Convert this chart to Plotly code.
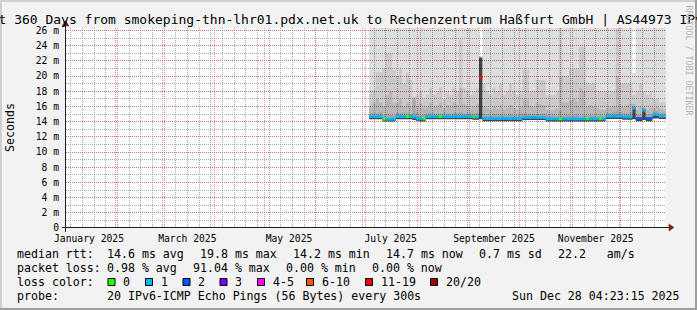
import plotly.graph_objects as go
from datetime import datetime, timedelta

# ---------------- data ----------------
GRAPH_END = datetime(2025, 12, 28, 4, 23, 15)
SPAN_DAYS = 360
SAMPLE_START = datetime(2025, 7, 3)
SAMPLE_STEP_DAYS = 2

median_ms = [14.65, 14.65, 14.65, 14.65, 14.3, 14.3, 14.3, 14.3, 14.65, 14.65,
             14.65, 14.65, 14.65, 14.6, 14.45, 14.35, 14.35, 14.65, 14.65, 14.65,
             14.65, 14.65, 14.65, 14.65, 14.65, 14.65, 14.65, 14.65, 14.65, 14.65,
             14.65, 14.6, 14.6, 19.8, 14.4, 14.4, 14.4, 14.4, 14.4, 14.4,
             14.4, 14.4, 14.4, 14.4, 14.4, 14.4, 14.55, 14.55, 14.55, 14.55,
             14.55, 14.55, 14.55, 14.35, 14.35, 14.35, 14.35, 14.35, 14.35, 14.35,
             14.35, 14.35, 14.35, 14.35, 14.35, 14.35, 14.35, 14.35, 14.35, 14.35,
             14.35, 14.7, 14.7, 14.7, 14.7, 14.7, 14.6, 14.6, 14.6, 15.8,
             14.4, 14.4, 15.5, 14.4, 14.4, 14.9, 14.9, 14.7, 14.7]

lost_pings = [1, 1, 1, 1, 0, 1, 1, 1, 1, 1,
              1, 0, 1, 1, 1, 1, 0, 1, 1, 1,
              1, 0, 1, 1, 1, 1, 1, 1, 1, 1,
              1, 0, 1, 15, 1, 1, 1, 1, 1, 1,
              1, 1, 1, 1, 1, 1, 1, 1, 1, 1,
              1, 1, 1, 1, 1, 1, 1, 0, 1, 1,
              1, 1, 1, 1, 1, 0, 1, 1, 1, 0,
              1, 1, 1, 1, 1, 1, 1, 1, 1, 1,
              2, 2, 1, 2, 2, 1, 1, 1, 1]

ping_min_ms = [14.3, 14.3, 14.3, 14.3, 14.0, 14.0, 14.0, 14.0, 14.3, 14.3,
               14.3, 14.3, 14.3, 14.2, 14.1, 14.0, 14.0, 14.3, 14.3, 14.3,
               14.3, 14.3, 14.3, 14.3, 14.3, 14.3, 14.3, 14.3, 14.3, 14.3,
               14.3, 14.25, 14.25, 14.3, 14.05, 14.05, 14.05, 14.05, 14.05, 14.05,
               14.05, 14.05, 14.05, 14.05, 14.05, 14.05, 14.2, 14.2, 14.2, 14.2,
               14.2, 14.2, 14.2, 14.0, 14.0, 14.0, 14.0, 14.0, 14.0, 14.0,
               14.0, 14.0, 14.0, 14.0, 14.0, 14.0, 14.0, 14.0, 14.0, 14.0,
               14.0, 14.35, 14.35, 14.35, 14.35, 14.35, 14.25, 14.25, 14.25, 14.3,
               14.05, 14.05, 14.2, 14.05, 14.05, 14.4, 14.4, 14.35, 14.35]

core_top_ms = [14.75, 14.75, 14.75, 14.75, 14.4, 14.4, 14.4, 14.4, 14.75, 14.75,
               14.75, 14.75, 14.75, 14.7, 14.55, 14.45, 14.45, 14.75, 14.75, 14.75,
               14.75, 14.75, 14.75, 14.75, 14.75, 14.75, 14.75, 14.75, 14.75, 14.75,
               14.75, 14.7, 14.7, 22.4, 14.5, 14.5, 14.5, 14.5, 14.5, 14.5,
               14.5, 14.5, 14.5, 14.5, 14.5, 14.5, 14.65, 14.65, 14.65, 14.65,
               14.65, 14.65, 14.65, 14.45, 14.45, 14.45, 14.45, 14.45, 14.45, 14.45,
               14.45, 14.45, 14.45, 14.45, 14.45, 14.45, 14.45, 14.45, 14.45, 14.45,
               14.45, 14.8, 14.8, 14.8, 14.8, 14.8, 14.7, 14.7, 14.7, 15.9,
               14.5, 14.5, 15.6, 14.5, 14.5, 15.0, 15.0, 14.8, 14.8]

p17_ms = [15.1, 15.2, 15.1, 15.3, 14.9, 15.0, 14.9, 14.8, 15.2, 15.1,
          15.2, 15.1, 15.0, 16.9, 15.2, 14.9, 15.0, 15.1, 15.2, 15.1,
          15.0, 15.1, 15.2, 15.1, 15.0, 15.2, 15.1, 15.3, 15.1, 15.0,
          15.1, 15.1, 15.2, 22.5, 15.0, 14.9, 14.9, 15.0, 14.9, 15.0,
          14.9, 14.9, 15.0, 14.9, 14.9, 15.0, 15.1, 15.0, 15.0, 15.1,
          15.0, 15.0, 15.1, 14.9, 14.8, 14.9, 14.8, 15.4, 14.9, 14.9,
          14.8, 14.9, 14.9, 14.8, 14.9, 14.8, 14.9, 14.8, 14.8, 14.9,
          14.8, 15.2, 15.2, 15.3, 15.6, 15.2, 15.1, 15.1, 15.2, 16.1,
          14.9, 14.9, 15.8, 14.9, 14.9, 15.4, 15.4, 15.2, 15.2]

p18_ms = [16.0, 16.5, 17.0, 16.5, 16.0, 17.5, 18.0, 16.5, 16.5, 17.0,
          16.0, 16.5, 16.0, 17.1, 16.0, 16.5, 15.8, 16.0, 16.5, 16.0,
          16.0, 16.5, 15.8, 16.2, 16.0, 16.5, 16.2, 18.5, 16.3, 16.0,
          15.8, 16.0, 16.3, 22.5, 16.0, 15.8, 15.6, 16.0, 15.7, 16.2,
          15.6, 15.8, 16.2, 15.8, 15.6, 15.9, 17.0, 16.8, 16.0, 15.9,
          16.5, 16.3, 16.2, 15.6, 15.5, 15.6, 15.7, 20.0, 16.5, 16.5,
          16.8, 17.0, 16.6, 18.5, 18.0, 16.0, 16.2, 16.0, 15.8, 15.6,
          15.6, 15.8, 15.9, 16.0, 20.0, 16.2, 16.0, 16.2, 16.4, 16.3,
          15.6, 16.0, 16.0, 15.6, 15.8, 15.8, 15.9, 15.7, 15.6]

p19_ms = [18.2, 18.2, 20.5, 20.5, 21.0, 23.0, 23.0, 20.8, 20.0, 21.0,
          19.0, 20.5, 19.5, 17.3, 17.5, 18.0, 17.0, 17.5, 18.5, 17.5,
          18.0, 18.5, 17.0, 18.0, 17.5, 18.5, 18.0, 24.8, 18.5, 18.0,
          17.5, 18.0, 18.5, 22.6, 19.0, 18.0, 17.5, 18.5, 18.0, 19.0,
          17.5, 18.0, 19.0, 18.0, 17.5, 18.0, 20.8, 20.8, 18.0, 18.0,
          19.5, 19.5, 19.5, 17.5, 17.5, 17.5, 18.0, 27.0, 20.0, 20.0,
          21.0, 21.0, 21.0, 23.8, 23.8, 19.0, 19.0, 19.0, 18.0, 18.0,
          18.0, 18.0, 18.0, 18.0, 27.0, 19.0, 19.0, 19.0, 19.0, 17.5,
          18.0, 19.0, 18.0, 17.5, 18.0, 17.0, 17.0, 16.5, 16.5]

ping_max_ms = [27.0] * 33 + [22.6] + [27.0] * 45 + [20.4] + [27.0] * 9

y_tick_values = [0, 2, 4, 6, 8, 10, 12, 14, 16, 18, 20, 22, 24, 26]
y_tick_text = ["0", "2 m", "4 m", "6 m", "8 m", "10 m", "12 m", "14 m",
               "16 m", "18 m", "20 m", "22 m", "24 m", "26 m"]
month_grid = ["2025-02-01", "2025-03-01", "2025-04-01", "2025-05-01", "2025-06-01",
              "2025-07-01", "2025-08-01", "2025-09-01", "2025-10-01", "2025-11-01",
              "2025-12-01"]
label_months = ["2025-01-01", "2025-03-01", "2025-05-01", "2025-07-01",
                "2025-09-01", "2025-11-01"]
label_text = ["January 2025", "March 2025", "May 2025", "July 2025",
              "September 2025", "November 2025"]

loss_classes = [  # label, min lost, max lost, colour
    ("0", 0, 0, "#26ff00"), ("1", 1, 1, "#00b8ff"), ("2", 2, 2, "#0059ff"),
    ("3", 3, 3, "#7e00ff"), ("4-5", 4, 5, "#ff00ff"), ("6-10", 6, 10, "#ff5500"),
    ("11-19", 11, 19, "#ff0000"), ("20/20", 20, 20, "#a10000")]

title_text = ("Last 360 Days from smokeping-thn-lhr01.pdx.net.uk to "
              "Rechenzentrum Haßfurt GmbH | AS44973 IPv6")
rtt_items = ["14.6 ms avg", "19.8 ms max", "14.2 ms min", "14.7 ms now",
             "0.7 ms sd", "22.2   am/s"]
loss_items = ["0.98 % avg", "91.04 % max", "0.00 % min", "0.00 % now"]
probe_text = "20 IPv6-ICMP Echo Pings (56 Bytes) every 300s"
stamp_text = "Sun Dec 28 04:23:15 2025"

# ---------------- layout constants ----------------
FIG_W, FIG_H = 697, 310
PL, PT, PW, PH = 66, 28, 600, 200
MONO = "DejaVu Sans Mono"
CHAR = 6.98
GAP = 16.2


def px(X):
    return (X - PL) / PW


def py(Y):
    return (PT + PH - Y) / PH


graph_start = GRAPH_END - timedelta(days=SPAN_DAYS)
n = len(median_ms)
times = [SAMPLE_START + timedelta(days=SAMPLE_STEP_DAYS * i) for i in range(n)] + [GRAPH_END]


def ext(v):
    return list(v) + [v[-1]]


fig = go.Figure()

# smoke bands (smokeping shades, drawn translucent so the grid shows through)
bands = [(core_top_ms, "rgba(0,0,0,0.73)"), (p17_ms, "rgba(0,0,0,0.357)"),
         (p18_ms, "rgba(0,0,0,0.282)"), (p19_ms, "rgba(0,0,0,0.208)"),
         (ping_max_ms, "rgba(0,0,0,0.133)")]
fig.add_trace(go.Scatter(x=times, y=ext(ping_min_ms), mode="lines",
                         line=dict(width=0, shape="hv"), hoverinfo="skip",
                         showlegend=False))
for vals, col in bands:
    fig.add_trace(go.Scatter(x=times, y=ext(vals), mode="lines", fill="tonexty",
                             fillcolor=col, line=dict(width=0, shape="hv"),
                             hoverinfo="skip", showlegend=False))

# median coloured by packet loss
for lab, lo, hi, col in loss_classes:
    xs, ys = [], []
    for i in range(n):
        if lo <= lost_pings[i] <= hi:
            xs += [times[i], times[i + 1], None]
            ys += [median_ms[i], median_ms[i], None]
    if xs:
        fig.add_trace(go.Scatter(x=xs, y=ys, mode="lines",
                                 line=dict(color=col, width=2.8),
                                 hoverinfo="skip", showlegend=False))

# empty trace to register the label axis
fig.add_trace(go.Scatter(x=[], y=[], xaxis="x2", showlegend=False))

GRID = "rgba(143,143,143,0.75)"
MGRID = "rgba(222,79,79,0.6)"
DASH = "1px,1px"

label_pos = [datetime.fromisoformat(m) + timedelta(days=15) for m in label_months]

fig.update_layout(
    width=FIG_W, height=FIG_H, template="none",
    paper_bgcolor="#f2f2f2", plot_bgcolor="#ffffff",
    margin=dict(l=PL, r=FIG_W - PL - PW, t=PT, b=FIG_H - PT - PH, pad=0),
    showlegend=False,
    xaxis=dict(type="date", range=[graph_start, GRAPH_END], tickmode="array",
               tickvals=month_grid, showticklabels=False, ticks="",
               showgrid=True, gridcolor=MGRID, griddash=DASH, gridwidth=1,
               zeroline=False, showline=False,
               minor=dict(tickmode="linear", tick0="2025-01-05",
                          dtick=7 * 86400000, showgrid=True, gridcolor=GRID,
                          griddash=DASH, gridwidth=1, ticks="")),
    xaxis2=dict(type="date", overlaying="x", anchor="y", side="bottom",
                range=[graph_start, GRAPH_END], tickmode="array",
                tickvals=label_pos, ticktext=label_text, ticks="",
                showgrid=False, zeroline=False, showline=False,
                tickfont=dict(family=MONO, size=9.7, color="black"),
                ticklabelstandoff=3),
    yaxis=dict(range=[0, 26.316], tickmode="array", tickvals=y_tick_values,
               ticktext=y_tick_text, ticks="", showgrid=True, gridcolor=MGRID,
               griddash=DASH, gridwidth=1, zeroline=False, showline=False,
               tickfont=dict(family=MONO, size=9.7, color="black"),
               ticklabelstandoff=6,
               minor=dict(tickmode="linear", tick0=0, dtick=1, showgrid=True,
                          gridcolor=GRID, griddash=DASH, gridwidth=1, ticks="")),
)

shapes = []
# frame shading
shapes.append(dict(type="rect", xref="paper", yref="paper", x0=px(0), x1=px(FIG_W),
                   y0=py(0), y1=py(2), fillcolor="#cfcfcf", line=dict(width=0)))
shapes.append(dict(type="rect", xref="paper", yref="paper", x0=px(0), x1=px(2),
                   y0=py(0), y1=py(FIG_H), fillcolor="#cfcfcf", line=dict(width=0)))
shapes.append(dict(type="rect", xref="paper", yref="paper", x0=px(0), x1=px(FIG_W),
                   y0=py(FIG_H - 2), y1=py(FIG_H), fillcolor="#9e9e9e", line=dict(width=0)))
shapes.append(dict(type="rect", xref="paper", yref="paper", x0=px(FIG_W - 2), x1=px(FIG_W),
                   y0=py(0), y1=py(FIG_H), fillcolor="#9e9e9e", line=dict(width=0)))
# axes with arrows
AX = "#1f1f1f"
ARROW = "#801f1f"
shapes.append(dict(type="line", xref="paper", yref="paper", x0=px(62), x1=px(670),
                   y0=py(227.5), y1=py(227.5), line=dict(color=AX, width=1), layer="above"))
shapes.append(dict(type="line", xref="paper", yref="paper", x0=px(65.5), x1=px(65.5),
                   y0=py(232), y1=py(24), line=dict(color=AX, width=1), layer="above"))


def path(pts):
    return "M " + " L ".join(f"{px(a):.5f},{py(b):.5f}" for a, b in pts) + " Z"


shapes.append(dict(type="path", xref="paper", yref="paper",
                   path=path([(669, 224), (674, 227.5), (669, 231)]),
                   fillcolor=ARROW, line=dict(color=ARROW, width=0.5), layer="above"))
shapes.append(dict(type="path", xref="paper", yref="paper",
                   path=path([(62, 26), (65.5, 20.5), (69, 26)]),
                   fillcolor=ARROW, line=dict(color=ARROW, width=0.5), layer="above"))

annotations = []


def text(X, Y, s, size=11.6, anchor="left", color="black", angle=0):
    annotations.append(dict(x=px(X), y=py(Y), xref="paper", yref="paper", text=s,
                            showarrow=False, xanchor=anchor, yanchor="middle",
                            font=dict(family=MONO, size=size, color=color),
                            textangle=angle, borderpad=0))


text(-26.5, 19, title_text, size=13)
text(10, 128, "Seconds", size=11.6, anchor="center", angle=-90)
text(688.5, 60, "RRDTOOL / TOBI OETIKER", size=8.3, anchor="center",
     color="#b4b4b4", angle=90)

ROW = [254, 268, 282, 296]
LX = 16
ITEM_X = 106
text(LX, ROW[0], "median rtt:")
x = ITEM_X
for s in rtt_items:
    text(x, ROW[0], s)
    x += len(s) * CHAR + GAP
text(LX, ROW[1], "packet loss:")
x = ITEM_X
for s in loss_items:
    text(x, ROW[1], s)
    x += len(s) * CHAR + GAP
text(LX, ROW[2], "loss color:")
box_x = [108, 145.5, 183, 220, 257.5, 306.5, 365.5, 430.5]
for (lab, lo, hi, col), bx in zip(loss_classes, box_x):
    shapes.append(dict(type="rect", xref="paper", yref="paper", x0=px(bx), x1=px(bx + 7),
                       y0=py(ROW[2] + 3.5), y1=py(ROW[2] - 3.5), fillcolor=col,
                       line=dict(color="black", width=1)))
    text(bx + 14, ROW[2], lab)
text(LX, ROW[3], "probe:")
text(ITEM_X, ROW[3], probe_text)
text(680.5, ROW[3], stamp_text, anchor="right")

fig.update_layout(shapes=shapes, annotations=annotations)
fig.write_html("out.html")
